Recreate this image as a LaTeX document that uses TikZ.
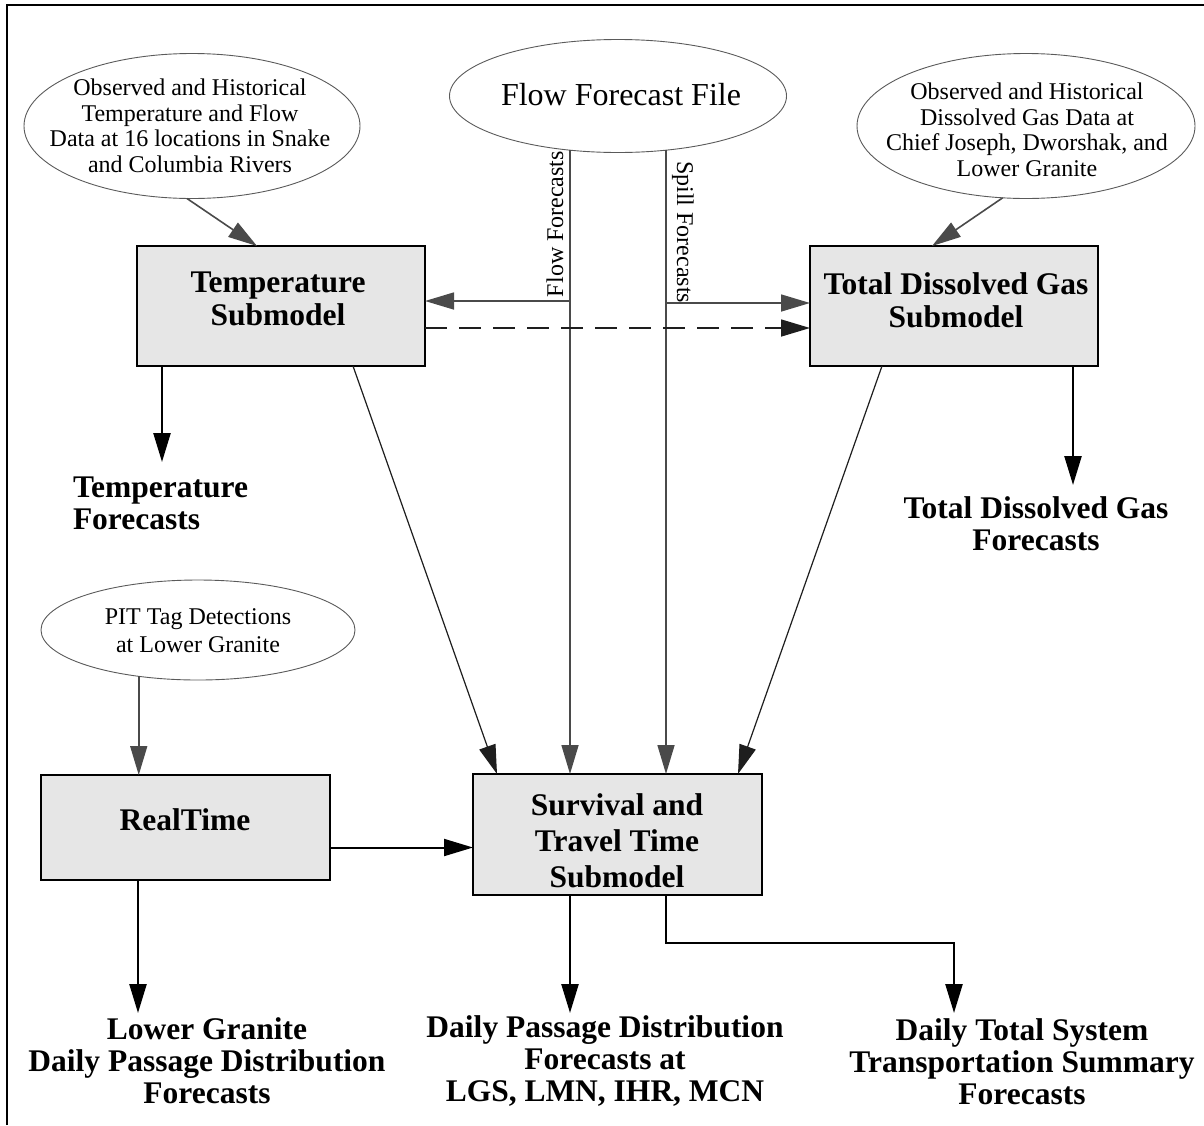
\documentclass[tikz,border=0pt]{standalone}
\usepackage{fontspec}
\setmainfont{Liberation Serif}
\usetikzlibrary{arrows.meta,shapes.geometric}
\definecolor{boxfill}{HTML}{E6E6E6}
\definecolor{cgray}{HTML}{4A4A4A}
\definecolor{cdark}{HTML}{1E1E1E}
\definecolor{egray}{HTML}{5A5A5A}
\begin{document}
\begin{tikzpicture}[x=1pt,y=-1pt,
  every node/.style={inner sep=0pt,outer sep=0pt},
  bubble/.style={ellipse,draw=egray,line width=0.9pt},
  bubtext/.style={align=center,font=\fontsize{24}{25.5}\selectfont},
  box/.style={draw=black,fill=boxfill,line width=1.8pt,anchor=north west},
  boxtext/.style={align=center,font=\fontsize{31.5}{33}\selectfont\bfseries},
  outtext/.style={align=center,font=\fontsize{31.5}{32}\selectfont\bfseries},
  tip/.style={-{Triangle[length=29pt,width=17pt]}},
  garrow/.style={draw=cgray,line width=1.6pt,tip},
  darrow/.style={draw=cdark,line width=1.2pt,tip},
  barrow/.style={draw=black,line width=2.4pt,tip},
  dasharrow/.style={draw=cdark,line width=1.6pt,dash pattern=on 22pt off 12pt,tip}]
\useasboundingbox (0,0) rectangle (1204,1125);
% frame
\draw[line width=2.5pt] (7,1125) -- (7,5) -- (1204,5);
% data bubbles
\node[bubble,minimum width=336pt,minimum height=145pt] (tdata) at (192,126) {};
\node[bubtext] (tdataT) at (190,126) {Observed and Historical\\Temperature and Flow\\Data at 16 locations in Snake\\and Columbia Rivers};
\node[bubble,minimum width=337pt,minimum height=113pt] (flow) at (618,96) {};
\node[font=\fontsize{32}{36}\selectfont] (flowT) at (621,95) {Flow Forecast File};
\node[bubble,minimum width=338pt,minimum height=145pt] (gdata) at (1026,126) {};
\node[bubtext] (gdataT) at (1027,130) {Observed and Historical\\Dissolved Gas Data at\\Chief Joseph, Dworshak, and\\Lower Granite};
\node[bubble,minimum width=314pt,minimum height=100pt] (pit) at (198,630) {};
\node[bubtext,font=\fontsize{24}{28}\selectfont] (pitT) at (198,631) {PIT Tag Detections\\at Lower Granite};
% boxes
\node[box,minimum width=288pt,minimum height=120pt] (temp) at (137,246) {};
\node[boxtext] (tempT) at (278,299) {Temperature\\Submodel};
\node[box,minimum width=288pt,minimum height=120pt] (tdg) at (810,246) {};
\node[boxtext] (tdgT) at (956,300) {Total Dissolved Gas\\Submodel};
\node[box,minimum width=289pt,minimum height=105pt] (rt) at (41,775) {};
\node[boxtext] (rtT) at (185,820) {RealTime};
\node[box,minimum width=289pt,minimum height=121pt] (surv) at (473,774) {};
\node[boxtext,font=\fontsize{31.5}{36}\selectfont\bfseries] (survT) at (617,841) {Survival and\\Travel Time\\Submodel};
% output texts
\node[outtext,align=left,anchor=west] (tfc) at (73,503) {Temperature\\Forecasts};
\node[outtext] (tdgfc) at (1036,524) {Total Dissolved Gas\\Forecasts};
\node[outtext] (lgfc) at (207,1061) {Lower Granite\\Daily Passage Distribution\\Forecasts};
\node[outtext] (dpfc) at (605,1061) {Daily Passage Distribution\\Forecasts at\\LGS, LMN, IHR, MCN};
\node[outtext] (dtfc) at (1022,1062) {Daily Total System\\Transportation Summary\\Forecasts};
% rotated labels
\node[rotate=90,font=\fontsize{24}{25}\selectfont] (flabel) at (555,224) {Flow Forecasts};
\node[rotate=-90,font=\fontsize{24}{25}\selectfont] (slabel) at (683,232) {Spill Forecasts};
% connector helper coordinates
\coordinate (fa) at (570,150);
\coordinate (sa) at (666,150);
\coordinate (fb) at (570,301);
\coordinate (sb) at (666,303);
% connectors
\draw[garrow] (tdata.266) -- ([xshift=120pt]temp.north west);
\draw[garrow] (gdata.252) -- ([xshift=122pt]tdg.north west);
\draw[garrow] (fa) -- (fa |- surv.north);
\draw[garrow] (sa) -- (sa |- surv.north);
\draw[garrow] (fb) -- (fb -| temp.east);
\draw[garrow] (sb) -- (sb -| tdg.west);
\draw[dasharrow] ([yshift=-22pt]temp.east) -- ([yshift=-22pt]tdg.west);
\draw[darrow] ([xshift=216pt]temp.south west) -- ([xshift=24pt]surv.north west);
\draw[darrow] ([xshift=72pt]tdg.south west) -- ([xshift=265pt]surv.north west);
\draw[garrow] (pit.218) -- (pit.218 |- rt.north);
\draw[barrow,line width=2pt] ([yshift=-20pt]rt.east) -- ([yshift=-20pt]rt.east -| surv.west);
\draw[barrow] ([xshift=25pt]temp.south west) -- ([xshift=25pt,yshift=-96pt]temp.south west);
\draw[barrow] ([xshift=263pt]tdg.south west) -- ([xshift=263pt,yshift=-119pt]tdg.south west);
\draw[barrow] ([xshift=97pt]rt.south west) -- ([xshift=97pt,yshift=-133pt]rt.south west);
\draw[barrow] ([xshift=97pt]surv.south west) -- ([xshift=97pt,yshift=-118pt]surv.south west);
\draw[barrow] ([xshift=193pt]surv.south west) -- ++(0,48) -| ([xshift=481pt,yshift=-118pt]surv.south west);
\end{tikzpicture}
\end{document}
